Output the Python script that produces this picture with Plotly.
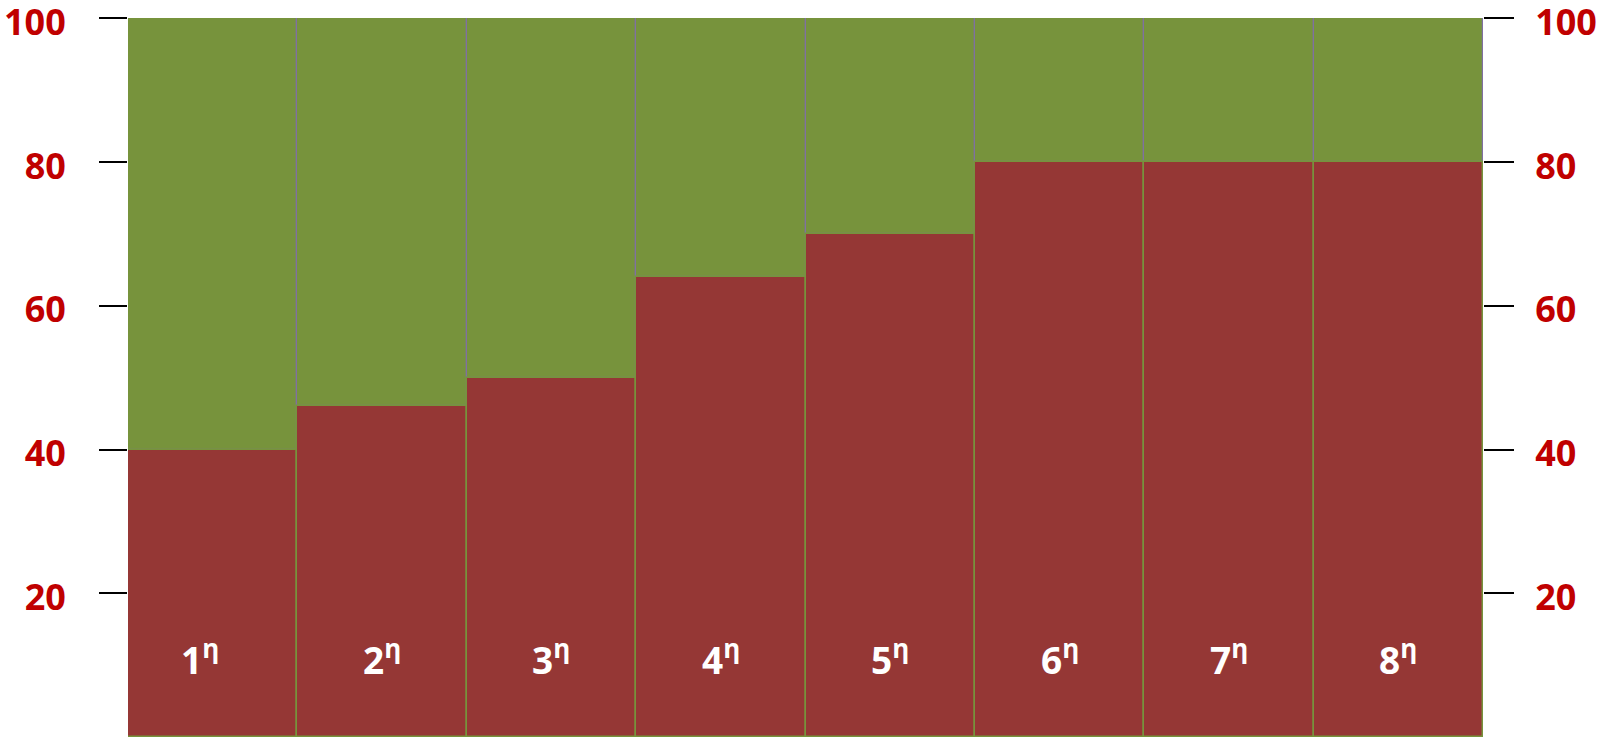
import plotly.graph_objects as go

# Categories and stacked values (red share + green remainder = 100)
categories = ["1", "2", "3", "4", "5", "6", "7", "8"]
red_values = [40, 46, 50, 64, 70, 80, 80, 80]
green_values = [100 - v for v in red_values]
tick_values = [20, 40, 60, 80, 100]

RED = "#953735"
GREEN = "#77933C"
DIVIDER = "#8070A0"
LABEL_RED = "#C00000"

fig = go.Figure()

# Upper (green) segment sits on top of the red one
fig.add_trace(go.Bar(
    x=categories, y=green_values, base=red_values,
    marker=dict(color=GREEN, line=dict(color=DIVIDER, width=1.2)),
    hoverinfo="skip", showlegend=False,
))
# Lower (red) segment
fig.add_trace(go.Bar(
    x=categories, y=red_values,
    marker=dict(color=RED, line=dict(color=GREEN, width=1.5)),
    hoverinfo="skip", showlegend=False,
))
# Invisible trace so the right-hand axis is drawn
fig.add_trace(go.Scatter(
    x=categories, y=red_values, yaxis="y2", mode="markers",
    marker=dict(opacity=0), hoverinfo="skip", showlegend=False,
))

# Ordinal labels near the bottom of each bar (positioned by category index);
# the first label sits a little left of its bar centre
for i, c in enumerate(categories):
    fig.add_annotation(
        x=i, y=11, xref="x", yref="y",
        text=f"{c}<sup>η</sup>", showarrow=False,
        xshift=-13 if i == 0 else 0,
        font=dict(family="Open Sans", size=37, color="white", weight="bold"),
    )

tickfont = dict(family="Open Sans", size=36, color=LABEL_RED, weight="bold")

fig.update_layout(
    width=1602, height=738,
    margin=dict(l=128, r=119, t=18, b=1, autoexpand=False),
    paper_bgcolor="white", plot_bgcolor="white",
    barmode="overlay", bargap=0,
    xaxis=dict(type="category", range=[-0.5, len(categories) - 0.5],
               showticklabels=False, showgrid=False, automargin=False,
               zeroline=False, showline=False, ticks=""),
    yaxis=dict(range=[0, 100.06], tickvals=tick_values, ticks="outside",
               ticklen=28, tickwidth=2, tickcolor="black",
               showgrid=False, zeroline=False, showline=False,
               tickfont=tickfont, ticklabelstandoff=26, ticklabelshift=4,
               ticklabeloverflow="allow", automargin=False),
    yaxis2=dict(range=[0, 100.06], tickvals=tick_values, ticks="outside",
                ticklen=30, tickwidth=2, tickcolor="black",
                overlaying="y", side="right",
                showgrid=False, zeroline=False, showline=False,
                tickfont=tickfont, ticklabelstandoff=14, ticklabelshift=4,
                ticklabeloverflow="allow", automargin=False),
)

fig.write_html("out.html")
